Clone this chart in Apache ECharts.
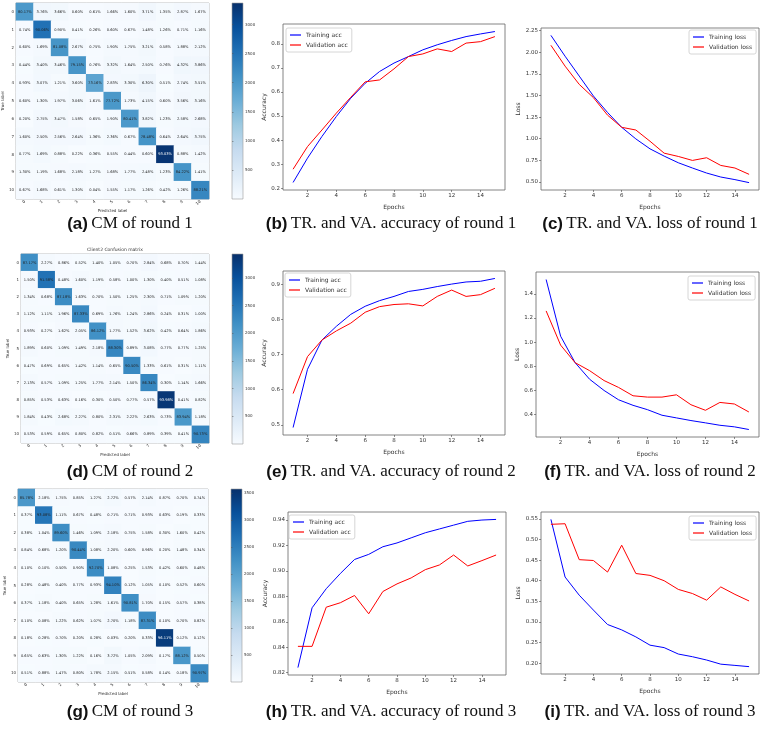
<!DOCTYPE html>
<html>
<head>
<meta charset="utf-8">
<script src="https://cdn.jsdelivr.net/npm/echarts@6/dist/echarts.min.js"></script>
<style>
html,body{margin:0;padding:0;background:#fff}
#main{width:780px;height:733px}
</style>
</head>
<body>
<div id="main"></div>
<script>
// class labels of the confusion matrices and the epochs of the curves
var classes = ['0','1','2','3','4','5','6','7','8','9','10']
var epochs = [1,2,3,4,5,6,7,8,9,10,11,12,13,14,15]

// confusion matrices (row = true label, percent)
var cm1 = [
  [80.17,3.76,3.66,0.60,0.61,1.66,1.60,3.71,1.35,2.87,1.67],
  [0.74,90.06,0.90,0.41,0.26,0.60,0.67,1.48,1.26,0.71,1.16],
  [0.60,1.69,81.08,2.67,0.75,1.90,1.75,3.21,0.58,1.88,2.12],
  [0.44,3.40,3.46,79.15,0.76,3.32,1.64,2.50,0.76,4.32,3.86],
  [0.93,3.07,1.21,3.60,73.16,2.83,3.30,6.30,0.51,2.74,3.51],
  [0.60,1.30,1.97,3.06,1.61,77.72,1.73,4.15,0.60,3.56,3.16],
  [0.20,2.75,3.47,1.58,0.65,1.90,80.41,3.82,1.23,2.58,2.68],
  [1.60,2.50,2.56,2.64,1.36,2.36,0.67,78.48,0.64,2.64,3.75],
  [0.77,1.69,0.88,0.22,0.36,0.55,0.44,0.60,93.03,0.88,1.42],
  [1.30,1.19,1.68,2.18,1.27,1.68,1.77,2.48,1.23,84.22,1.41],
  [0.67,1.68,0.61,1.30,0.04,1.55,1.17,1.26,0.42,1.26,88.21]
]
var cm2 = [
  [87.17,2.27,0.86,0.52,1.40,1.05,0.70,2.84,0.68,0.70,1.44],
  [1.50,91.58,0.48,1.60,1.19,0.58,1.00,1.30,0.40,0.51,1.08],
  [1.34,0.68,87.18,1.63,0.70,1.50,1.25,2.30,0.71,1.09,1.20],
  [1.12,1.11,1.96,87.33,0.69,1.76,1.24,2.86,0.24,0.31,1.00],
  [0.93,0.27,1.62,2.05,86.12,1.77,1.52,3.62,0.42,0.64,1.86],
  [1.89,0.60,1.09,1.49,2.18,88.30,0.89,3.08,0.77,0.77,1.25],
  [0.47,0.69,0.65,1.42,1.14,0.65,90.50,1.33,0.61,0.31,1.11],
  [2.13,0.57,1.09,1.25,1.77,2.14,1.50,86.34,0.30,1.14,1.66],
  [0.85,0.53,0.63,0.16,0.30,0.50,0.77,0.57,93.98,0.41,0.82],
  [1.84,0.43,2.68,2.27,0.80,2.31,2.22,2.63,0.73,83.94,1.18],
  [0.53,0.59,0.65,0.80,0.82,0.51,0.66,0.89,0.39,0.41,90.73]
]
var cm3 = [
  [85.78,2.18,1.75,0.85,1.27,2.72,0.57,2.14,0.87,0.70,0.74],
  [0.37,93.08,1.11,0.67,0.48,0.71,0.71,0.93,0.63,0.19,0.33],
  [0.38,1.04,89.60,1.46,1.09,2.18,0.75,1.58,0.30,1.60,0.42],
  [0.84,0.68,1.20,90.44,1.08,2.20,0.60,0.96,0.20,1.48,0.34],
  [0.10,0.10,0.50,0.90,92.70,1.08,0.25,1.53,0.42,0.60,0.48],
  [0.28,0.48,0.40,0.77,0.93,94.10,0.12,1.05,0.10,0.52,0.60],
  [0.37,1.18,0.40,0.65,1.28,1.61,90.81,1.70,0.15,0.57,0.38],
  [0.10,0.08,1.22,0.62,1.07,2.70,1.18,87.31,0.10,0.70,0.82],
  [0.18,0.28,0.70,0.20,0.28,0.03,0.20,0.33,96.11,0.12,0.12],
  [0.65,0.63,1.30,1.22,0.16,3.72,1.05,2.09,0.17,88.12,0.50],
  [0.51,0.88,1.47,0.80,1.78,2.15,0.51,0.58,0.14,0.18,90.97]
]
// samples per true class (estimated from the cell shades), colorbar ranges
var classCount = [2500,2800,2550,2600,2500,2600,2500,2650,3550,2450,2550]
var cbarMax = [3370, 3430, 3570]
var cbarTicks1 = [500,1000,1500,2000,2500,3000]
var cbarTicks2 = [500,1000,1500,2000,2500,3000]
var cbarTicks3 = [500,1000,1500,2000,2500,3000,3500]

// round 1 curves
var trainAcc1 = [0.224,0.325,0.415,0.498,0.574,0.636,0.685,0.720,0.747,0.775,0.796,0.814,0.830,0.841,0.851]
var valAcc1   = [0.279,0.373,0.442,0.512,0.578,0.642,0.650,0.696,0.747,0.758,0.779,0.768,0.803,0.809,0.830]
var trainLoss1 = [2.196,1.955,1.725,1.495,1.304,1.132,0.998,0.883,0.799,0.722,0.661,0.603,0.557,0.527,0.492]
var valLoss1   = [2.081,1.840,1.629,1.476,1.273,1.132,1.101,0.971,0.833,0.795,0.749,0.780,0.691,0.661,0.588]
// round 2 curves
var trainAcc2 = [0.4925,0.658,0.741,0.780,0.814,0.837,0.853,0.865,0.879,0.885,0.893,0.900,0.906,0.908,0.916]
var valAcc2   = [0.589,0.694,0.741,0.767,0.789,0.820,0.836,0.842,0.844,0.838,0.865,0.883,0.865,0.870,0.888]
var trainLoss2 = [1.518,1.049,0.830,0.693,0.600,0.523,0.477,0.441,0.395,0.373,0.351,0.332,0.312,0.299,0.277]
var valLoss2   = [1.258,0.975,0.830,0.764,0.682,0.625,0.556,0.545,0.545,0.564,0.482,0.436,0.501,0.488,0.422]
// round 3 curves
var trainAcc3 = [0.824,0.871,0.886,0.898,0.909,0.913,0.919,0.922,0.926,0.930,0.933,0.936,0.939,0.940,0.9405]
var valAcc3   = [0.8407,0.8407,0.8715,0.875,0.8807,0.8663,0.8838,0.8898,0.8945,0.901,0.9047,0.9125,0.9039,0.9081,0.9125]
var trainLoss3 = [0.5486,0.409,0.365,0.329,0.294,0.281,0.264,0.244,0.238,0.2225,0.216,0.208,0.198,0.195,0.192]
var valLoss3   = [0.5366,0.538,0.451,0.449,0.421,0.486,0.4175,0.413,0.400,0.379,0.369,0.353,0.385,0.367,0.351]

// tick labels
var epochTicks = [2,4,6,8,10,12,14]
var accTicks1 = [0.2,0.3,0.4,0.5,0.6,0.7,0.8]
var lossTicks1 = [0.50,0.75,1.00,1.25,1.50,1.75,2.00,2.25]
var accTicks2 = [0.5,0.6,0.7,0.8,0.9]
var lossTicks2 = [0.4,0.6,0.8,1.0,1.2,1.4]
var accTicks3 = [0.82,0.84,0.86,0.88,0.90,0.92,0.94]
var lossTicks3 = [0.20,0.25,0.30,0.35,0.40,0.45,0.50,0.55]

var blues = ['#f7fbff','#deebf7','#c6dbef','#9ecae1','#6baed6','#4292c6','#2171b5','#08519c','#08306b']
var tickFont = 'DejaVu Sans'

var grids = [], xAxes = [], yAxes = [], series = [], visualMaps = [], legends = [], graphics = []

function cmData(cm, max) {
    var out = []
    for (var i = 0; i < cm.length; i++) {
        for (var j = 0; j < cm[i].length; j++) {
            var cnt = cm[i][j] * classCount[i] / 100
            out.push({
                value: [j, i, cnt, cm[i][j]],
                label: {color: cnt > max * 0.8 ? '#ffffff' : '#222222'}
            })
        }
    }
    return out
}

function addCM(cm, box, max, ticks, cbox) {
    var gi = grids.length
    grids.push({left: box[0], top: box[1], width: box[2], height: box[3], show: true,
        borderColor: '#9a9a9a', borderWidth: 0.8, backgroundColor: '#fff'})
    xAxes.push({gridIndex: gi, type: 'category', data: classes, position: 'bottom',
        name: 'Predicted label', nameLocation: 'middle', nameGap: 9,
        nameTextStyle: {fontSize: 4, fontFamily: tickFont, color: '#333'},
        axisLine: {show: false}, splitLine: {show: false},
        axisTick: {length: 1.5, lineStyle: {color: '#555', width: 0.5}, alignWithLabel: true},
        axisLabel: {fontSize: 4, rotate: 45, margin: 2, color: '#333', fontFamily: tickFont}})
    yAxes.push({gridIndex: gi, type: 'category', data: classes, inverse: true,
        name: 'True label', nameLocation: 'middle', nameGap: 8, nameRotate: 90,
        nameTextStyle: {fontSize: 4, fontFamily: tickFont, color: '#333'},
        axisLine: {show: false}, splitLine: {show: false},
        axisTick: {length: 1.5, lineStyle: {color: '#555', width: 0.5}, alignWithLabel: true},
        axisLabel: {fontSize: 4, margin: 2, color: '#333', fontFamily: tickFont}})
    var si = series.length
    series.push({type: 'heatmap', xAxisIndex: gi, yAxisIndex: gi, data: cmData(cm, max),
        label: {show: true, fontSize: 3.6, fontFamily: tickFont,
            formatter: function (p) { return p.value[3].toFixed(2) + '%' }},
        emphasis: {disabled: true}})
    visualMaps.push({type: 'continuous', show: false, seriesIndex: si, dimension: 2,
        min: 0, max: max, inRange: {color: blues}})

    // colorbar
    var ci = grids.length
    grids.push({left: cbox[0], top: cbox[1], width: cbox[2], height: cbox[3], show: true,
        borderColor: '#9a9a9a', borderWidth: 0.6,
        backgroundColor: new echarts.graphic.LinearGradient(0, 1, 0, 0, blues.map(function (c, k) {
            return {offset: k / (blues.length - 1), color: c}
        }))})
    xAxes.push({gridIndex: ci, type: 'value', show: false, min: 0, max: 1})
    yAxes.push({gridIndex: ci, type: 'value', min: 0, max: max, position: 'right',
        axisLine: {show: false}, splitLine: {show: false},
        axisTick: {show: true, length: 1.5, customValues: ticks, lineStyle: {color: '#555', width: 0.5}},
        axisLabel: {customValues: ticks, fontSize: 4, margin: 2, color: '#333', fontFamily: tickFont,
            formatter: function (v) { return String(Math.round(v)) }}})
}

function padRange(arrs) {
    var all = [].concat.apply([], arrs)
    var mn = Math.min.apply(null, all), mx = Math.max.apply(null, all)
    var r = mx - mn
    return [mn - r * 0.05, mx + r * 0.05]
}

function addLines(box, train, val, names, yName, yTicks, dec, nameGap, legendPos) {
    var gi = grids.length
    grids.push({left: box[0], top: box[1], width: box[2], height: box[3], show: true,
        borderColor: '#666', borderWidth: 0.8, backgroundColor: '#fff'})
    xAxes.push({gridIndex: gi, type: 'value', min: 0.3, max: 15.7,
        name: 'Epochs', nameLocation: 'middle', nameGap: 14,
        nameTextStyle: {fontSize: 6, fontFamily: tickFont, color: '#333'},
        axisLine: {show: false}, splitLine: {show: false},
        axisTick: {show: true, length: 2, customValues: epochTicks, lineStyle: {color: '#444', width: 0.6}},
        axisLabel: {customValues: epochTicks, fontSize: 5.5, margin: 3, color: '#333', fontFamily: tickFont}})
    var yr = padRange([train, val])
    yAxes.push({gridIndex: gi, type: 'value', min: yr[0], max: yr[1],
        name: yName, nameLocation: 'middle', nameGap: nameGap, nameRotate: 90,
        nameTextStyle: {fontSize: 6, fontFamily: tickFont, color: '#333'},
        axisLine: {show: false}, splitLine: {show: false},
        axisTick: {show: true, length: 2, customValues: yTicks, lineStyle: {color: '#444', width: 0.6}},
        axisLabel: {customValues: yTicks, fontSize: 5.5, margin: 3, color: '#333', fontFamily: tickFont,
            formatter: function (v) { return Number(v).toFixed(dec) }}})
    series.push({type: 'line', name: names[0], xAxisIndex: gi, yAxisIndex: gi, symbol: 'none',
        data: epochs.map(function (e, i) { return [e, train[i]] }),
        lineStyle: {color: '#0000ff', width: 1}, itemStyle: {color: '#0000ff'}})
    series.push({type: 'line', name: names[1], xAxisIndex: gi, yAxisIndex: gi, symbol: 'none',
        data: epochs.map(function (e, i) { return [e, val[i]] }),
        lineStyle: {color: '#ff0000', width: 1}, itemStyle: {color: '#ff0000'}})
    legends.push({orient: 'vertical', left: legendPos[0], top: legendPos[1], data: names,
        icon: 'rect', itemWidth: 11, itemHeight: 1.2, itemGap: 2, padding: [3, 4],
        borderColor: '#cccccc', borderWidth: 0.8, borderRadius: 2, backgroundColor: '#fff',
        selectedMode: false,
        textStyle: {fontSize: 6, lineHeight: 8, fontFamily: tickFont, color: '#333'}})
}

function caption(x, y, tag, txt) {
    graphics.push({type: 'text', x: x, y: y, style: {
        text: '{b|' + tag + '} {t|' + txt + '}', align: 'center', verticalAlign: 'middle',
        rich: {
            b: {fontSize: 17, fontWeight: 'bold', fontFamily: 'Liberation Sans', fill: '#111'},
            t: {fontSize: 17, fontFamily: 'Liberation Serif', fill: '#111'}
        }}})
}

// row 1
addCM(cm1, [14, 3, 195, 196], cbarMax[0], cbarTicks1, [232, 3, 11, 196])
addLines([283, 24, 222, 166], trainAcc1, valAcc1, ['Training acc', 'Validation acc'], 'Accuracy', accTicks1, 1, 16, [286, 28])
addLines([541, 28, 218, 162], trainLoss1, valLoss1, ['Training loss', 'Validation loss'], 'Loss', lossTicks1, 2, 19, [689, 30])
// row 2
addCM(cm2, [21, 254, 188, 189], cbarMax[1], cbarTicks2, [232, 254, 11, 190])
addLines([283, 271, 222, 164], trainAcc2, valAcc2, ['Training acc', 'Validation acc'], 'Accuracy', accTicks2, 1, 16, [285, 273])
addLines([536, 272, 223, 165], trainLoss2, valLoss2, ['Training loss', 'Validation loss'], 'Loss', lossTicks2, 1, 16, [688, 276])
// row 3
addCM(cm3, [18, 489, 190, 193], cbarMax[2], cbarTicks3, [231, 489, 11, 193])
addLines([288, 512, 218, 163], trainAcc3, valAcc3, ['Training acc', 'Validation acc'], 'Accuracy', accTicks3, 2, 20, [289, 515])
addLines([541, 512, 218, 162], trainLoss3, valLoss3, ['Training loss', 'Validation loss'], 'Loss', lossTicks3, 2, 19, [689, 516])

graphics.push({type: 'text', x: 115, y: 250, style: {text: 'Client2 Confusion matrix', align: 'center',
    verticalAlign: 'middle', fontSize: 4.5, fontFamily: tickFont, fill: '#333'}})

caption(130, 224, '(a)', 'CM of round 1')
caption(391, 224, '(b)', 'TR. and VA. accuracy of round 1')
caption(650, 224, '(c)', 'TR. and VA. loss of round 1')
caption(130, 472, '(d)', 'CM of round 2')
caption(391, 472, '(e)', 'TR. and VA. accuracy of round 2')
caption(650, 472, '(f)', 'TR. and VA. loss of round 2')
caption(130, 712, '(g)', 'CM of round 3')
caption(391, 712, '(h)', 'TR. and VA. accuracy of round 3')
caption(650, 712, '(i)', 'TR. and VA. loss of round 3')

var chart = echarts.init(document.getElementById('main'), null, {renderer: 'canvas'})
chart.setOption({
    animation: false,
    backgroundColor: '#ffffff',
    grid: grids,
    xAxis: xAxes,
    yAxis: yAxes,
    visualMap: visualMaps,
    legend: legends,
    series: series,
    graphic: graphics
})
</script>
</body>
</html>
